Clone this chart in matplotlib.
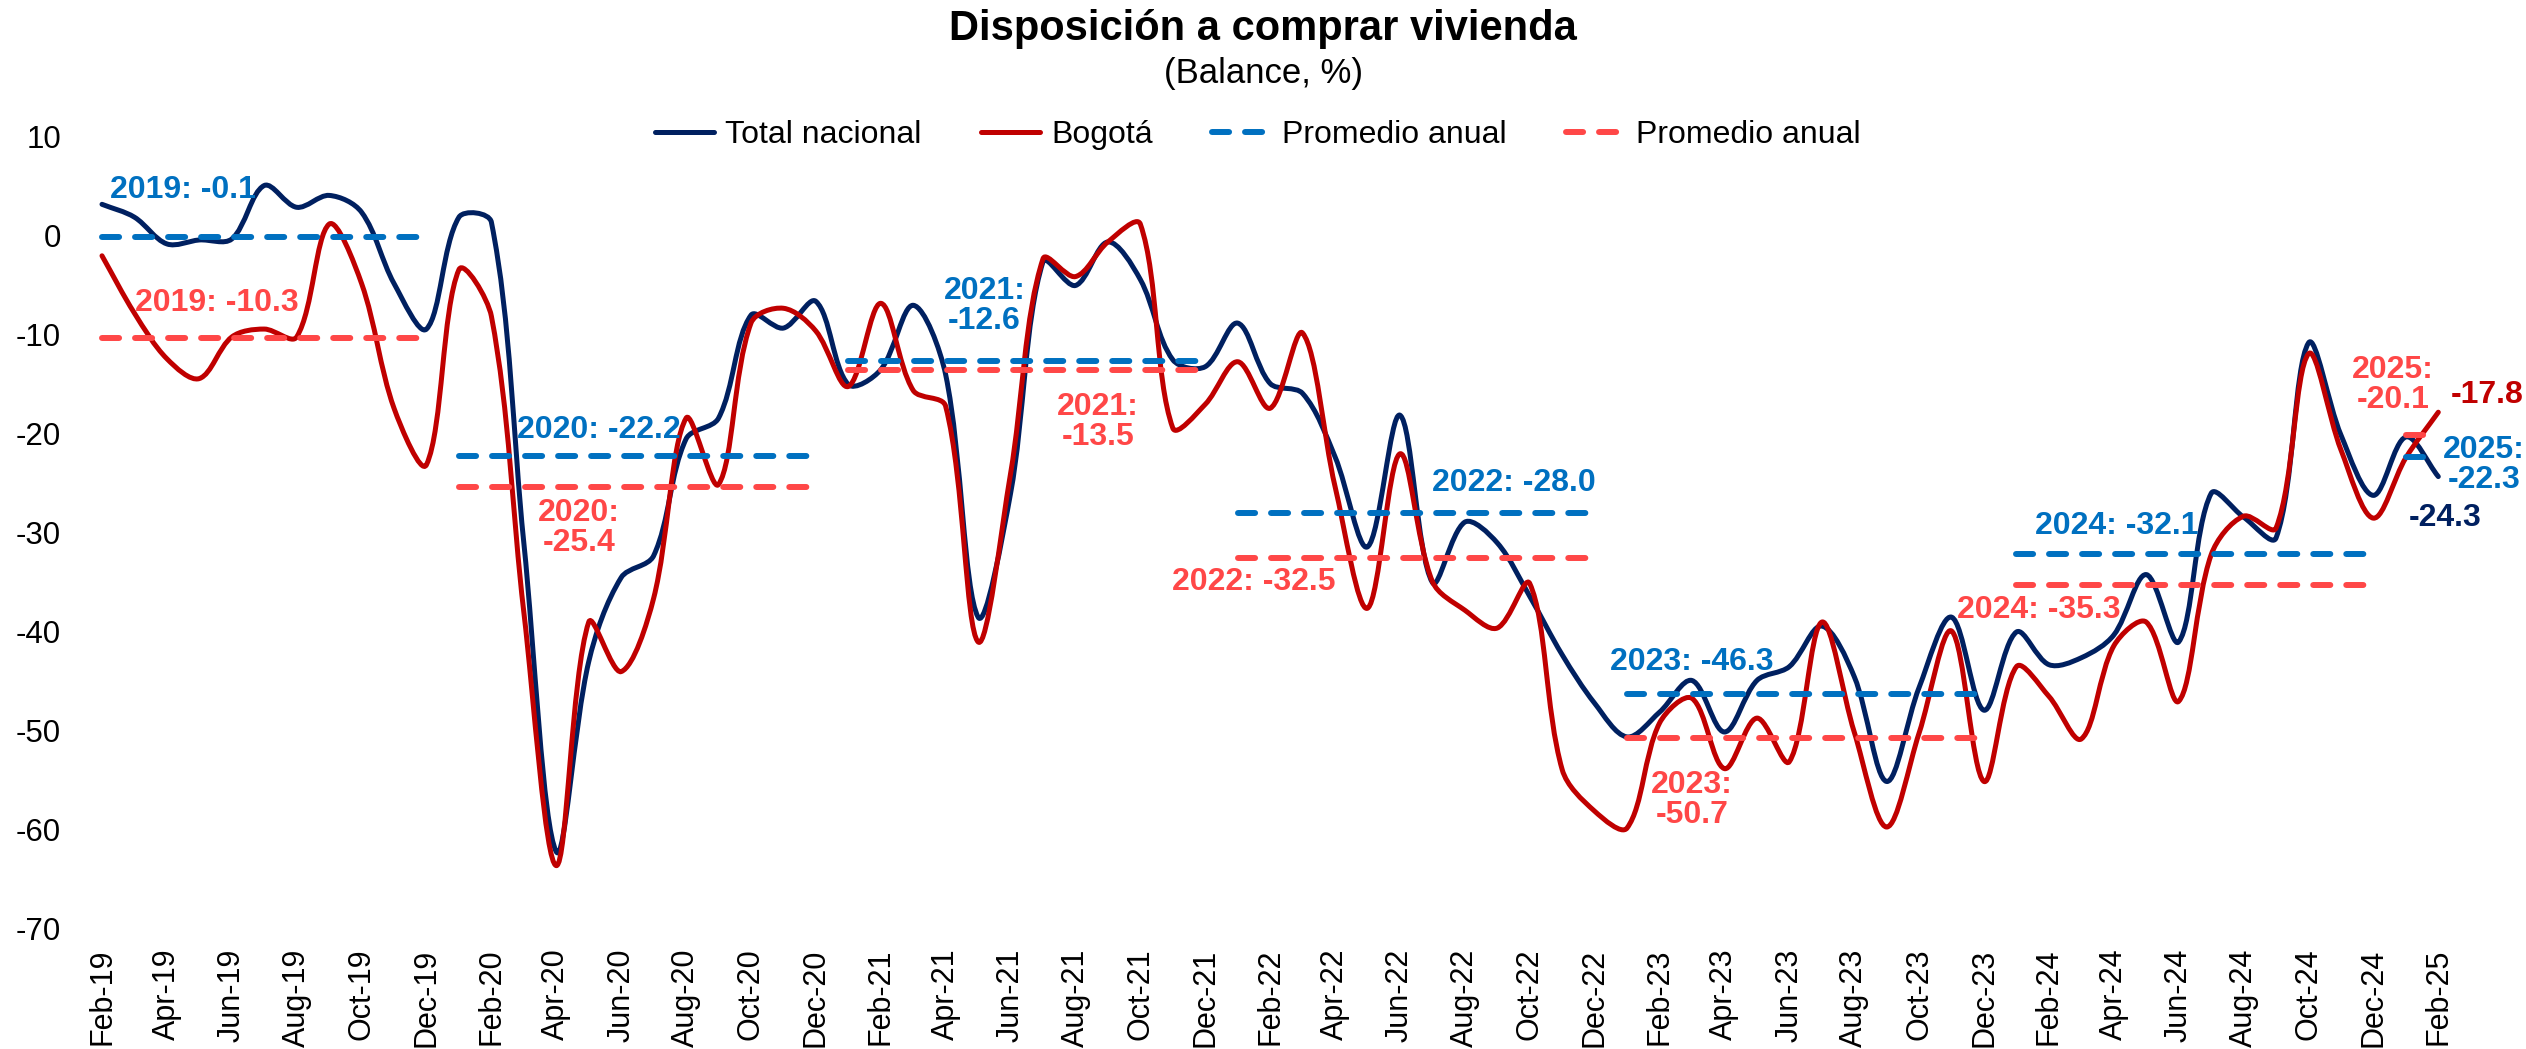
import numpy as np
import matplotlib.pyplot as plt
from matplotlib.path import Path
from matplotlib.patches import PathPatch
from matplotlib.lines import Line2D

plt.rcParams['font.family'] = ['Liberation Sans', 'DejaVu Sans']
plt.rcParams['axes.unicode_minus'] = False

# categorias mensuales Feb-19 .. Feb-25
abbr = ["Jan", "Feb", "Mar", "Apr", "May", "Jun", "Jul", "Aug", "Sep", "Oct", "Nov", "Dec"]
months = []
month_year = []
for yy in range(2019, 2026):
    for m in range(12):
        if (yy == 2019 and m == 0) or (yy == 2025 and m > 1):
            continue
        months.append(f"{abbr[m]}-{str(yy)[2:]}")
        month_year.append(yy)

total_nacional = [
    3.2, 1.9, -0.8, -0.4, -0.3, 5.1, 2.9, 4.1, 2.4, -4.8, -9.4,
    1.9, 1.4, -31.0, -62.2, -43.0, -34.5, -32.3, -20.5, -18.4, -8.0, -9.3, -6.6,
    -15.0, -13.5, -7.0, -14.0, -38.5, -26.0, -2.6, -5.0, -0.6, -4.4, -12.5, -13.2,
    -8.8, -14.9, -15.9, -22.3, -31.4, -18.1, -35.0, -28.9, -31.0, -36.4, -42.3, -47.2,
    -50.6, -48.1, -44.9, -50.1, -44.9, -43.5, -39.4, -44.5, -55.1, -45.6, -38.5, -47.9,
    -40.0, -43.3, -42.6, -40.3, -34.2, -41.0, -26.0, -28.4, -30.5, -10.8, -20.1, -26.2,
    -20.3, -24.3,
]
bogota = [
    -2.0, -7.8, -12.4, -14.4, -10.2, -9.4, -10.2, 1.2, -4.8, -17.4, -23.1,
    -3.4, -8.1, -38.0, -63.6, -39.0, -44.0, -36.6, -18.4, -25.1, -8.8, -7.3, -9.6,
    -15.2, -6.8, -15.6, -17.2, -41.0, -24.0, -2.3, -4.1, -0.6, 1.2, -19.4, -17.0,
    -12.7, -17.4, -9.8, -25.3, -37.6, -22.0, -34.9, -37.8, -39.6, -35.1, -53.9, -58.1,
    -59.8, -49.2, -46.7, -53.8, -48.7, -53.1, -39.0, -50.1, -59.7, -50.2, -39.9, -55.1,
    -43.5, -46.5, -50.8, -41.4, -39.0, -47.0, -32.2, -28.3, -29.5, -11.9, -21.6, -28.5,
    -22.4, -17.8,
]

years = [2019, 2020, 2021, 2022, 2023, 2024, 2025]
prom_total = [-0.1, -22.2, -12.6, -28.0, -46.3, -32.1, -22.3]
prom_bogota = [-10.3, -25.4, -13.5, -32.5, -50.7, -35.3, -20.1]

NAVY = "#002060"
RED = "#C00000"
BLUE_D = "#0070C0"
RED_D = "#FF4747"


def smooth_path(vals, sx, sy):
    # bezier con tangentes ponderadas por longitud de cuerda (parecido a excel)
    y = np.asarray(vals, dtype=float)
    x = np.arange(len(y), dtype=float)
    n = len(y)
    P = np.column_stack([x, y])
    d = np.hypot(np.diff(x) * sx, np.diff(y) * sy)
    c_out = np.zeros_like(P)
    c_in = np.zeros_like(P)
    for i in range(n):
        if i == 0:
            T = P[1] - P[0]
            c_out[i] = P[i] + T / 3
        elif i == n - 1:
            T = P[i] - P[i - 1]
            c_in[i] = P[i] - T / 3
        else:
            T = P[i + 1] - P[i - 1]
            tot = d[i - 1] + d[i]
            c_out[i] = P[i] + T * d[i] / tot / 3
            c_in[i] = P[i] - T * d[i - 1] / tot / 3
    verts = [tuple(P[0])]
    codes = [Path.MOVETO]
    for i in range(n - 1):
        verts += [tuple(c_out[i]), tuple(c_in[i + 1]), tuple(P[i + 1])]
        codes += [Path.CURVE4] * 3
    return Path(verts, codes)


fig = plt.figure(figsize=(25.26, 10.49), dpi=100)
ax = fig.add_axes([0.0346, 0.1144, 0.9371, 0.755])
ax.set_xlim(-0.45, 72.5)
ax.set_ylim(-70, 10)
px_x = ax.bbox.width / 72.95
px_y = ax.bbox.height / 80

lw = 3.6
for vals, col in [(total_nacional, NAVY), (bogota, RED)]:
    ax.add_patch(PathPatch(smooth_path(vals, px_x, px_y), fill=False, edgecolor=col,
                           lw=lw, capstyle="round", joinstyle="round", zorder=2))

idx = np.arange(len(months))
yr = np.array(month_year)
lw_d = 4.3
dash = (2.86, 2.67)
for k, y in enumerate(years):
    seg = idx[yr == y]
    ax.plot(seg, [prom_total[k]] * len(seg), color=BLUE_D, lw=lw_d,
            dashes=dash, dash_capstyle="round", zorder=3)
    ax.plot(seg, [prom_bogota[k]] * len(seg), color=RED_D, lw=lw_d,
            dashes=dash, dash_capstyle="round", zorder=3)

# etiquetas de promedios (posicion en coordenadas de datos, dos lineas si aplica)
lab_total = {2019: (2.5, 4.6, False), 2020: (15.3, -19.6, False),
             2021: (27.2, -7.1, True), 2022: (43.5, -25.0, False),
             2023: (49.0, -43.0, False), 2024: (62.1, -29.3, False),
             2025: (73.4, -23.1, True)}
lab_bog = {2019: (3.55, -6.8, False), 2020: (14.7, -29.5, True),
           2021: (30.7, -18.8, True), 2022: (35.5, -35.0, False),
           2023: (49.0, -57.0, True), 2024: (59.7, -37.8, False),
           2025: (70.6, -15.1, True)}
fs_lab = 23
for k, y in enumerate(years):
    for labs, vals, col in [(lab_total, prom_total, BLUE_D), (lab_bog, prom_bogota, RED_D)]:
        xx, yy, two = labs[y]
        sep = ":\n" if two else ": "
        ax.text(xx, yy, f"{y}{sep}{vals[k]:.1f}", color=col, fontsize=fs_lab,
                fontweight="bold", ha="center", va="center", linespacing=1.0,
                zorder=4)

ax.text(73.5, -16.1, f"{bogota[-1]:.1f}", color=RED, fontsize=fs_lab,
        fontweight="bold", ha="center", va="center")
ax.text(72.2, -28.5, f"{total_nacional[-1]:.1f}", color=NAVY, fontsize=fs_lab,
        fontweight="bold", ha="center", va="center")

ax.set_xticks(idx[::2])
ax.set_xticklabels(months[::2], rotation=90, fontsize=22)
ax.set_yticks(range(-70, 11, 10))
ax.set_yticklabels([str(v) for v in range(-70, 11, 10)], fontsize=22.5)
ax.tick_params(axis="both", length=0)
ax.tick_params(axis="y", pad=19)
ax.tick_params(axis="x", pad=14)
for s in ax.spines.values():
    s.set_visible(False)

handles = [
    Line2D([], [], color=NAVY, lw=lw, solid_capstyle="round"),
    Line2D([], [], color=RED, lw=lw, solid_capstyle="round"),
    Line2D([], [], color=BLUE_D, lw=lw_d, dashes=dash, dash_capstyle="round"),
    Line2D([], [], color=RED_D, lw=lw_d, dashes=dash, dash_capstyle="round"),
]
fig.legend(handles, ["Total nacional", "Bogotá", "Promedio anual", "Promedio anual"],
           loc="center", bbox_to_anchor=(0.498, 0.871), ncol=4, frameon=False,
           fontsize=23, handlelength=1.85, handletextpad=0.35, columnspacing=1.85)

fig.text(0.5, 0.972, "Disposición a comprar vivienda", ha="center", va="center",
         fontsize=30, fontweight="bold")
fig.text(0.5, 0.930, "(Balance, %)", ha="center", va="center", fontsize=25)

fig.savefig("out.png", dpi=100)
